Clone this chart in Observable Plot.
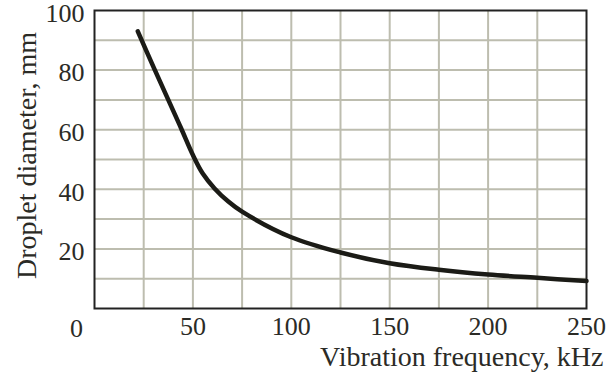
<!DOCTYPE html>
<html>
<head>
<meta charset="utf-8">
<script src="https://cdn.jsdelivr.net/npm/d3@7"></script>
<script src="https://cdn.jsdelivr.net/npm/@observablehq/plot@0.6"></script>
<style>
  html, body { margin: 0; padding: 0; background: #fff; }
  #chart { width: 606px; height: 381px; }
  #chart svg { overflow: visible; }
</style>
</head>
<body>
<div id="chart"></div>
<script>
const frequency = [22, 30, 37.5, 44, 50, 55, 61, 68, 75, 100, 125, 150, 175, 200, 225, 250];
const diameter  = [93, 81, 70, 60.5, 51.5, 45.3, 40.3, 35.9, 32.5, 23.9, 18.8, 15.2, 13.0, 11.4, 10.3, 9.2];
const xTicks = [50, 100, 150, 200, 250];
const yTicks = [20, 40, 60, 80, 100];
const xOrigin = [0];
const xGrid = d3.range(25, 250, 25);
const yGrid = d3.range(10, 100, 10);
const xLabel = "Vibration frequency, kHz";
const yLabel = "Droplet diameter, mm";

const data = frequency.map((f, i) => ({f, d: diameter[i]}));
const font = "Liberation Serif, Times New Roman, serif";
const gridColor = "#bdbdaf";
const ink = "#2b2b26";

const chart = Plot.plot({
  width: 606,
  height: 381,
  marginLeft: 94,
  marginRight: 20,
  marginTop: 10,
  marginBottom: 73,
  style: {fontFamily: font, fontSize: "26px", color: ink, background: "#fff", overflow: "visible"},
  x: {domain: [0, 250]},
  y: {domain: [0, 100]},
  marks: [
    Plot.ruleX(xGrid, {stroke: gridColor, strokeWidth: 2}),
    Plot.ruleY(yGrid, {stroke: gridColor, strokeWidth: 2}),
    Plot.frame({stroke: "#222", strokeWidth: 2}),
    Plot.line(data, {x: "f", y: "d", curve: "catmull-rom", stroke: "#1b1b16", strokeWidth: 4.5, strokeLinecap: "round"}),
    Plot.axisX(xTicks, {tickSize: 0, tickPadding: 8, label: null, fill: ink, fontSize: 26}),
    Plot.text(xOrigin, {x: d => d, y: 0, text: d => String(d), dy: 20, dx: -18, fill: ink, fontSize: 26}),
    Plot.axisY(yTicks, {tickSize: 0, tickPadding: 10, label: null, fill: ink, fontSize: 26, dy: 3}),
    Plot.text([xLabel], {frameAnchor: "bottom-right", dy: 57, dx: 17, text: d => d, fill: ink, fontSize: 28, textAnchor: "end"}),
    Plot.text([yLabel], {frameAnchor: "left", dx: -67, dy: -4, rotate: -90, text: d => d, fill: ink, fontSize: 28, textAnchor: "middle"})
  ]
});
document.getElementById("chart").append(chart);
</script>
</body>
</html>
